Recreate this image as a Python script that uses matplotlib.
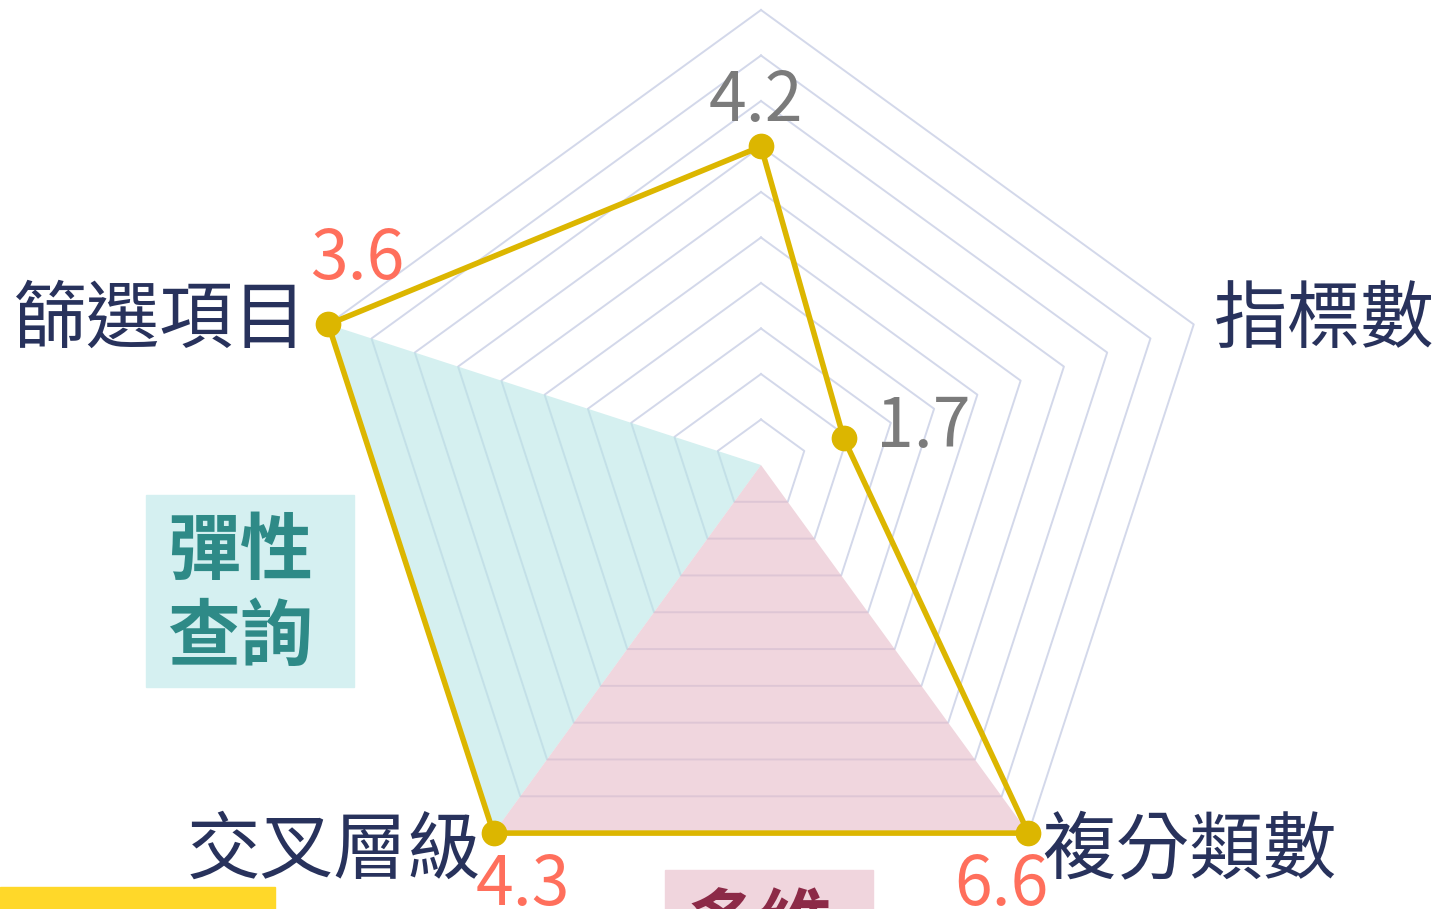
import numpy as np
import matplotlib
matplotlib.use("Agg")
import matplotlib.pyplot as plt
from matplotlib.patches import Rectangle

# ---------------- data ----------------
categories = ["", "指標數", "複分類數", "交叉層級", "篩選項目"]
values = [4.2, 1.7, 6.6, 4.3, 3.6]
axis_max = [6.0, 8.9, 6.6, 4.3, 3.6]
value_labels = ["4.2", "1.7", "6.6", "4.3", "3.6"]
n_rings = 10
zone_names = ["彈性查詢", "多維分析"]
zone_axes = [[4, 3], [3, 2]]

# ---------------- style ----------------
W, H = 1441, 909
NAVY = "#28325c"
GRAY = "#7b7b7b"
CORAL = "#ff6f5c"
GOLD = "#dcb600"
GRID = "#d3d8ea"
TEAL_BG = "#d5f0f1"
TEAL_TX = "#2e8a87"
PINK_BG = "#f0d5dd"
PINK_TX = "#8c2a47"
YELLOW = "#ffd829"
CJK = ["Noto Sans CJK TC", "DejaVu Sans"]
NUM = ["Noto Sans CJK TC", "Noto Sans"]

fig = plt.figure(figsize=(W / 100, H / 100), dpi=100)
fig.patch.set_facecolor("white")


def fx(x):
    return x / W


def fy(y):
    return (H - y) / H


cx, cy, R = 761, 465, 455
ax = fig.add_axes([fx(cx - R), fy(cy + R), 2 * R / W, 2 * R / H], projection="polar")
ax.set_theta_offset(np.pi / 2)
ax.set_theta_direction(-1)
ax.set_ylim(0, 1)
ax.set_axis_off()

n = len(values)
theta = np.arange(n) * 2 * np.pi / n
theta_c = np.append(theta, theta[0])

# grid rings (pentagons)
for k in range(1, n_rings + 1):
    r = k / n_rings
    ax.plot(theta_c, [r] * (n + 1), color=GRID, lw=1.4, zorder=1, clip_on=False)

# highlighted zones
zone_colors = ["#b9e6e6", "#e6bbc8"]
for idx, col in zip(zone_axes, zone_colors):
    ax.fill([0, theta[idx[0]], theta[idx[1]]], [0, 1, 1], color=col, alpha=0.6,
            lw=0, zorder=2, clip_on=False)

# data polygon
rad = np.array(values) / np.array(axis_max)
rad_c = np.append(rad, rad[0])
ax.plot(theta_c, rad_c, color=GOLD, lw=4.0, zorder=4, clip_on=False,
        solid_joinstyle="miter")
ax.plot(theta, rad, "o", ms=17.5, color=GOLD, zorder=5, clip_on=False)

# value labels
val_offsets = [(-5, 25, "center"), (32, -9, "left"), (-27, -72, "center"),
               (29, -72, "center"), (29, 45, "center")]
for i in range(n):
    col = CORAL if abs(values[i] - axis_max[i]) < 1e-9 else GRAY
    dx, dy, ha = val_offsets[i]
    ax.annotate(value_labels[i], xy=(theta[i], rad[i]), xytext=(dx, dy),
                textcoords="offset pixels", ha=ha, va="baseline",
                fontsize=49, color=col, family=NUM, zorder=6,
                annotation_clip=False)

# axis labels
cat_offsets = [(0, 30, "center"), (20, -18, "left"), (14, -40, "left"),
               (-12, -40, "right"), (-21, -17, "right")]
for i in range(n):
    if not categories[i]:
        continue
    dx, dy, ha = cat_offsets[i]
    ax.annotate(categories[i], xy=(theta[i], 1.0), xytext=(dx, dy),
                textcoords="offset pixels", ha=ha, va="baseline",
                fontsize=53, color=NAVY, family=CJK, zorder=6,
                annotation_clip=False)

# zone tag boxes
fig.patches.append(Rectangle((fx(146), fy(687)), 208 / W, 192 / H,
                             transform=fig.transFigure, color=TEAL_BG, zorder=0))
fig.text(fx(240), fy(574), zone_names[0][:2], ha="center", va="baseline",
         fontsize=52.5, color=TEAL_TX, family=CJK, weight="bold")
fig.text(fx(240), fy(660), zone_names[0][2:], ha="center", va="baseline",
         fontsize=52.5, color=TEAL_TX, family=CJK, weight="bold")

fig.patches.append(Rectangle((fx(665), fy(1000)), 208 / W, 130 / H,
                             transform=fig.transFigure, color=PINK_BG, zorder=0))
fig.text(fx(759), fy(950), zone_names[1][:2], ha="center", va="baseline",
         fontsize=52.5, color=PINK_TX, family=CJK, weight="bold")

# yellow accent bar
fig.patches.append(Rectangle((fx(0), fy(930)), 275 / W, 43 / H,
                             transform=fig.transFigure, color=YELLOW, zorder=0))

fig.savefig("out.png", dpi=100)
